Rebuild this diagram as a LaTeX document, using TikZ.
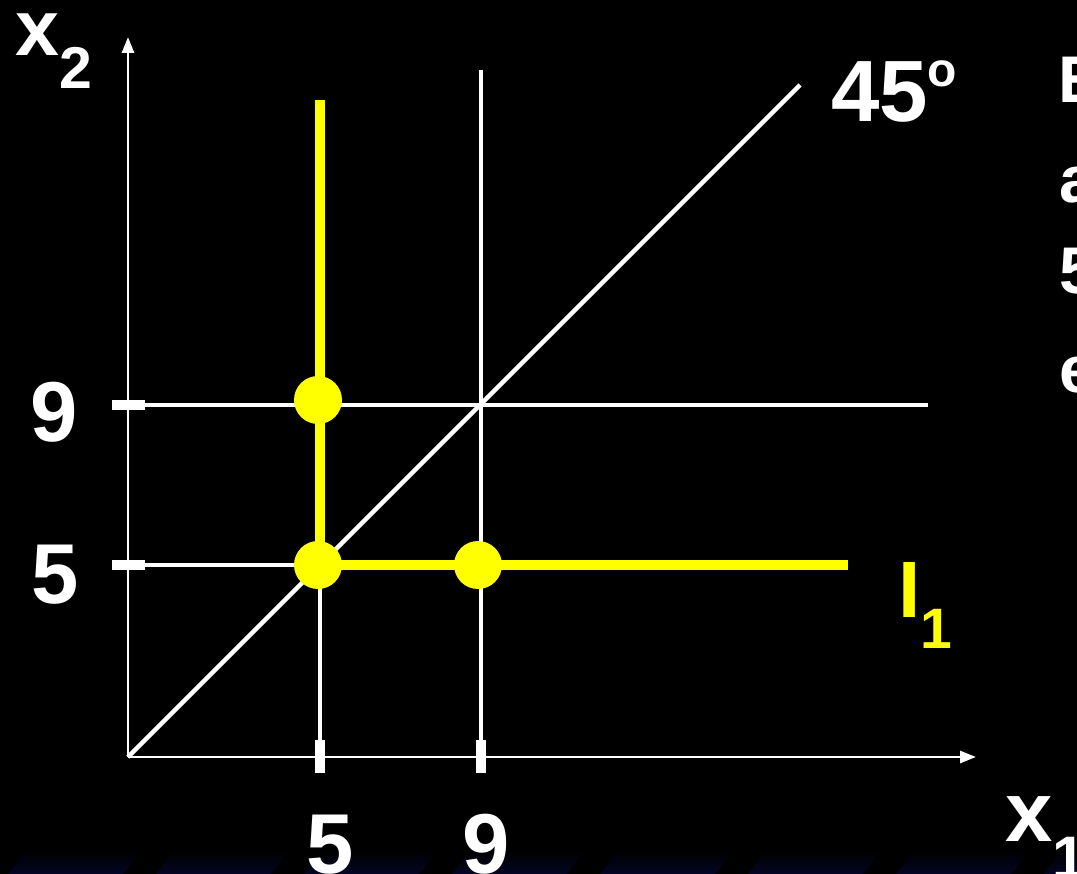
\documentclass[tikz,border=0pt]{standalone}
\usepackage{fontspec}
\setmainfont{Liberation Sans}
\usetikzlibrary{arrows.meta}
\definecolor{bundleyellow}{RGB}{255,255,0}
\definecolor{stripenavy}{RGB}{3,6,36}
\newcommand{\lowsub}[3]{\raisebox{-#1pt}{\fontsize{#2}{#2}\selectfont #3}}
\tikzset{
  axisline/.style={draw=white, line width=2.7pt,
                   -{Triangle[length=16pt, width=12pt]}},
  gridline/.style={draw=white, line width=4.3pt},
  tickmark/.style={draw=white, line width=10pt},
  indiffline/.style={draw=bundleyellow, line width=10pt},
  bundledot/.style={circle, fill=bundleyellow, minimum size=48pt,
                    inner sep=0pt},
  biglabel/.style={text=white, inner sep=0pt,
                   font=\fontsize{85}{85}\selectfont\bfseries},
  edgetext/.style={text=white, inner sep=0pt, anchor=base west,
                   font=\fontsize{66}{66}\selectfont\bfseries}
}
\begin{document}
\begin{tikzpicture}[x=1pt, y=-1pt]

  %% Background and frame
  \fill[black] (0,0) rectangle (1077,874);
  \useasboundingbox (0,0) rectangle (1077,874);
  \clip (0,0) rectangle (1077,874);
  \foreach \sx in {8,156,...,1100} {
    \shade[top color=black, bottom color=stripenavy]
      (\sx,874) -- (\sx+18,850) -- (\sx+133,850) -- (\sx+115,874) -- cycle;
  }

  %% Points
  \coordinate (O)     at (128,757);
  \coordinate (ytip)  at (128,37);
  \coordinate (xtip)  at (976,757);
  \coordinate (y9)    at (128,405);
  \coordinate (y5)    at (128,565);
  \coordinate (x9)    at (481,757);
  \coordinate (x5)    at (320,757);
  \coordinate (h9end) at (928,405);
  \coordinate (v9end) at (481,70);
  \coordinate (diag)  at (800,85);
  \coordinate (a55)   at (320,565);
  \coordinate (ytop)  at (320,100);
  \coordinate (yend)  at (848,565);

  %% Axes
  \draw[axisline] (O) -- (ytip);
  \draw[axisline] (O) -- (xtip);

  %% Lines through 5 and 9
  \draw[gridline] (y9) -- (h9end);
  \draw[gridline] (y5) -- (a55);
  \draw[gridline] (x9) -- (v9end);
  \draw[gridline] (x5) -- (a55);
  \draw[gridline] (O) -- (diag);

  %% Ticks
  \foreach \tx in {320,481}
    \draw[tickmark] (\tx,740) -- (\tx,773);
  \foreach \ty in {405,565}
    \draw[tickmark] (112,\ty) -- (145,\ty);

  %% Indifference curve I_1
  \draw[indiffline] (ytop) -- (a55) -- (yend);

  %% Bundles
  \node[bundledot] (b59) at (318,400) {};
  \node[bundledot] (b55) at (318,565) {};
  \node[bundledot] (b95) at (478,565) {};

  %% Labels
  \node[biglabel, anchor=base west, font=\fontsize{79}{79}\selectfont\bfseries]
    (x2lbl) at (15,56) {x\lowsub{33}{59}{2}};
  \node[biglabel, anchor=base west]
    (x1lbl) at (1005,841) {x\lowsub{37}{60}{1}};
  \node[biglabel, anchor=base] (nine)  at (54,442) {9};
  \node[biglabel, anchor=base] (five)  at (55,603) {5};
  \node[biglabel, anchor=base] (fivex) at (330,873) {5};
  \node[biglabel, anchor=base] (ninex) at (486,873) {9};
  \node[biglabel, anchor=base west, font=\fontsize{87}{87}\selectfont\bfseries]
    (angle) at (831,122) {45\raisebox{35pt}{\fontsize{48}{48}\selectfont o}};
  \node[biglabel, anchor=base west, text=bundleyellow,
        font=\fontsize{80}{80}\selectfont\bfseries]
    (ilbl) at (898,617) {I\lowsub{31}{57}{1}};

  %% Text at the right edge
  \node[edgetext] (edgeE) at (1058,103) {E};
  \node[edgetext] (edgeA) at (1059,203) {a};
  \node[edgetext] (edge5) at (1059,294) {5};
  \node[edgetext] (edgee) at (1059,393) {e};

\end{tikzpicture}
\end{document}
